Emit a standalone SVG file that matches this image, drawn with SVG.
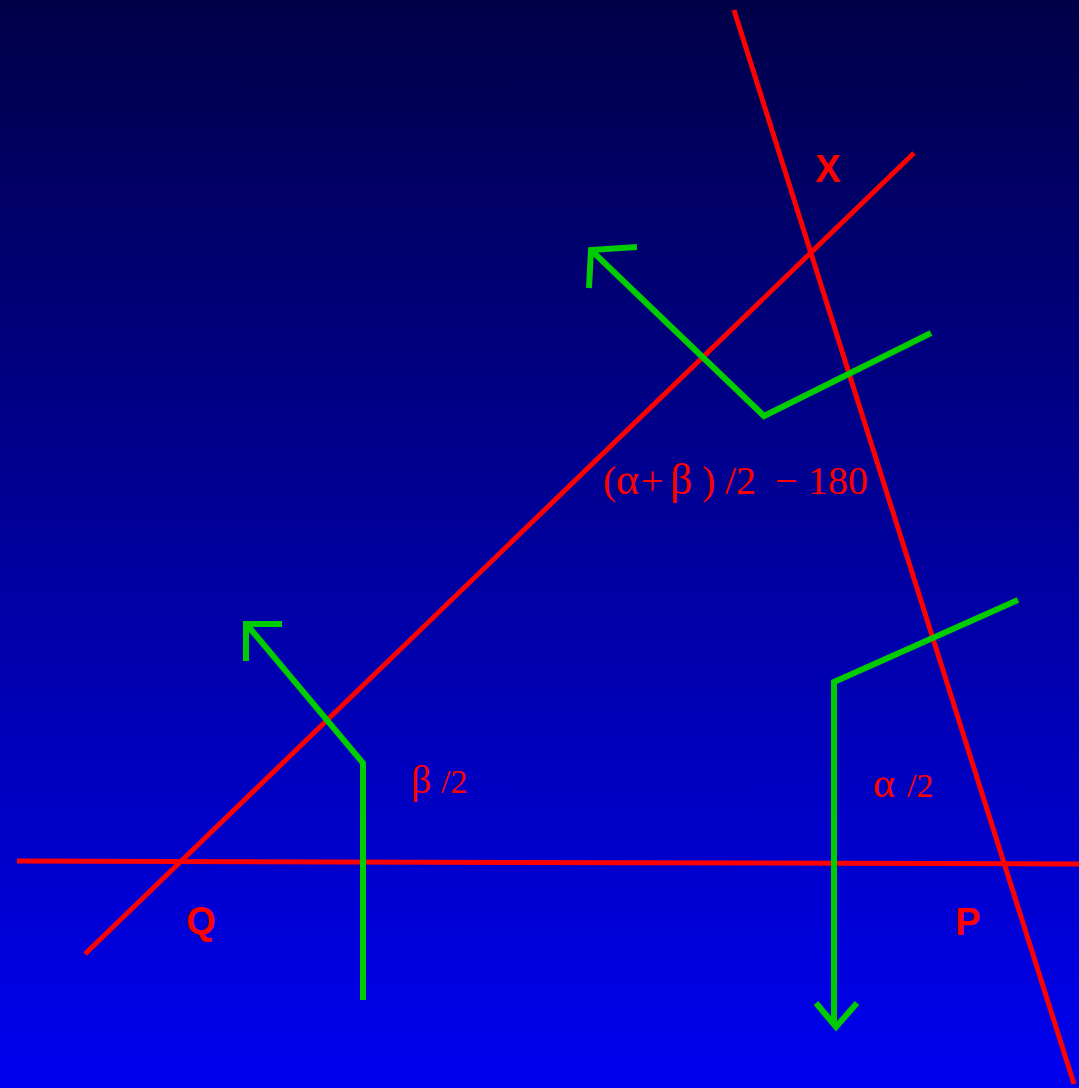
<svg xmlns="http://www.w3.org/2000/svg" width="1079" height="1088" viewBox="0 0 1079 1088">
<defs>
<linearGradient id="bg" x1="0" y1="0" x2="0" y2="1">
<stop offset="0" stop-color="#000048"/>
<stop offset="1" stop-color="#0000F0"/>
</linearGradient>
<style>
.red{stroke:#FF0000;stroke-width:5;fill:none}
.grn{stroke:#00CC00;stroke-width:6;fill:none;stroke-linejoin:miter}
.lbl{font-family:"Liberation Sans",Arial,sans-serif;font-weight:bold;font-size:38px;fill:#FF0000;text-anchor:middle}
.math{font-family:"Liberation Serif","Times New Roman",serif;fill:#FF0000}
.gk{font-size:44px}
</style>
</defs>
<rect width="1079" height="1088" fill="url(#bg)"/>
<g id="connectors">
<line class="red" x1="734" y1="10" x2="1074" y2="1084"/>
<line class="red" x1="85" y1="954" x2="914" y2="153"/>
<line class="red" x1="17" y1="861" x2="1079" y2="864"/>
<polyline class="grn" points="931,333 764,416 591,250"/>
<polyline class="grn" points="637,247 591,250 589,288"/>
<polyline class="grn" points="363,1000 363,763 248,626"/>
<polyline class="grn" points="282,624 246,624 246,661"/>
<polyline class="grn" points="1018,600 834,682 834,1026"/>
<polyline class="grn" points="816,1003 836,1027 857,1003"/>
</g>
<g id="X"><text class="lbl" x="828" y="182">X</text></g>
<g id="Q"><text class="lbl" x="201" y="934">Q</text></g>
<g id="P"><text class="lbl" x="968" y="935">P</text></g>
<g id="angleX"><text class="math" y="494" font-size="40"><tspan x="603">(</tspan><tspan x="616" class="gk">α</tspan><tspan x="641">+</tspan><tspan x="670" class="gk">β</tspan><tspan x="702">)</tspan><tspan x="725">/2</tspan><tspan x="775">−</tspan><tspan x="808">180</tspan></text></g>
<g id="angleQ"><text class="math" y="793" font-size="34"><tspan x="411" font-size="40">β</tspan><tspan x="441">/2</tspan></text></g>
<g id="angleP"><text class="math" y="797" font-size="34"><tspan x="873" font-size="42">α</tspan><tspan x="907">/2</tspan></text></g>
</svg>
